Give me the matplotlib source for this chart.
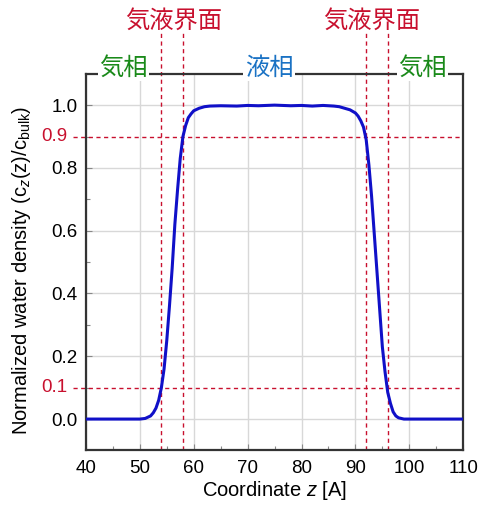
import numpy as np
import matplotlib
matplotlib.use("Agg")
from matplotlib import pyplot as plt

plt.rcParams['font.family'] = ['Liberation Sans', 'Noto Sans CJK JP']
plt.rcParams['mathtext.fontset'] = 'custom'
plt.rcParams['mathtext.rm'] = 'Liberation Sans'
plt.rcParams['mathtext.it'] = 'Liberation Sans:italic'

# density profile
z = [40, 45, 50, 51, 52, 52.5, 53, 53.5, 54, 54.5, 55, 55.5, 56, 56.5, 57, 57.5,
     58, 58.5, 59, 59.5, 60, 61, 62, 63, 65, 68, 70, 72, 75, 78, 80, 82, 84, 86,
     87, 88, 89, 90, 90.5, 91, 91.5, 92, 92.5, 93, 93.5, 94, 94.5, 95, 95.5, 96,
     96.5, 97, 97.5, 98, 99, 100, 105, 110]
rho = [0, 0, 0, 0.002, 0.01, 0.02, 0.035, 0.06, 0.1, 0.16, 0.25, 0.36, 0.48, 0.62,
       0.73, 0.83, 0.9, 0.935, 0.96, 0.972, 0.982, 0.99, 0.995, 0.997, 0.998, 0.997,
       0.999, 0.998, 1.0, 0.998, 0.999, 0.997, 0.999, 0.997, 0.995, 0.99, 0.985,
       0.975, 0.965, 0.95, 0.93, 0.89, 0.81, 0.71, 0.59, 0.47, 0.35, 0.23, 0.15,
       0.085, 0.05, 0.023, 0.01, 0.004, 0.0, 0, 0, 0]

interfaces = [54, 58, 92, 96]
thresholds = [0.1, 0.9]

red = '#c8102e'
green = '#1a8a1a'
blue = '#1a72c4'

fig = plt.figure(figsize=(4.8, 5.05), dpi=100)
ax = fig.add_axes([0.179, 0.108, 0.786, 0.746])

ax.plot(z, rho, color='#1010c8', lw=2.2, zorder=3)

for x in interfaces:
    ax.axvline(x, ymin=0, ymax=1.108, color=red, ls=(0, (3, 2.5)), lw=1, clip_on=False, zorder=2)
for y in thresholds:
    ax.axhline(y, xmin=-0.034, xmax=1, color=red, ls=(0, (3, 2.5)), lw=1, clip_on=False, zorder=2)
    ax.text(-0.05, y, f'{y:.1f}', color=red, fontsize=13.5, ha='right', va='center',
            transform=ax.get_yaxis_transform())

ax.set_xlim(40, 110)
ax.set_ylim(-0.1, 1.1)
ax.set_xticks(np.arange(40, 111, 10))
ax.set_xticks(np.arange(45, 110, 10), minor=True)
ax.set_yticks(np.arange(0, 1.01, 0.2))
ax.set_yticks(np.arange(0.1, 1.0, 0.2), minor=True)
ax.tick_params(which='both', direction='in', labelsize=13.5, top=False, right=False)
ax.tick_params(which='major', length=4, width=0.8, color='#888888')
ax.tick_params(which='minor', length=3, width=0.8, color='#888888')
ax.tick_params(axis='y', which='major', pad=6)
ax.tick_params(axis='x', which='major', pad=7)
ax.grid(True, color='#d8d8d8', lw=1)
ax.set_axisbelow(True)
for s in ax.spines.values():
    s.set_linewidth(1.6)
    s.set_color('#333333')

ax.set_xlabel('Coordinate $z$ [A]', fontsize=14.5, labelpad=1.5)
ax.set_ylabel('Normalized water density (c$_z$(z)/c$_{\\mathrm{bulk}}$)', fontsize=14.5)
ax.yaxis.set_label_coords(-0.14, 0.479)

# phase labels on top spine
box = dict(facecolor='white', edgecolor='none', pad=1)
ax.text(47.0, 1.015, '気相', color=green, fontsize=17.5, ha='center', va='center',
        transform=ax.get_xaxis_transform(), bbox=box, zorder=5)
ax.text(74.0, 1.015, '液相', color=blue, fontsize=17.5, ha='center', va='center',
        transform=ax.get_xaxis_transform(), bbox=box, zorder=5)
ax.text(102.5, 1.015, '気相', color=green, fontsize=17.5, ha='center', va='center',
        transform=ax.get_xaxis_transform(), bbox=box, zorder=5)
ax.text(56.2, 1.14, '気液界面', color=red, fontsize=17.5, ha='center', va='center',
        transform=ax.get_xaxis_transform(), zorder=5)
ax.text(93.0, 1.14, '気液界面', color=red, fontsize=17.5, ha='center', va='center',
        transform=ax.get_xaxis_transform(), zorder=5)

fig.savefig('out.png', dpi=100)
